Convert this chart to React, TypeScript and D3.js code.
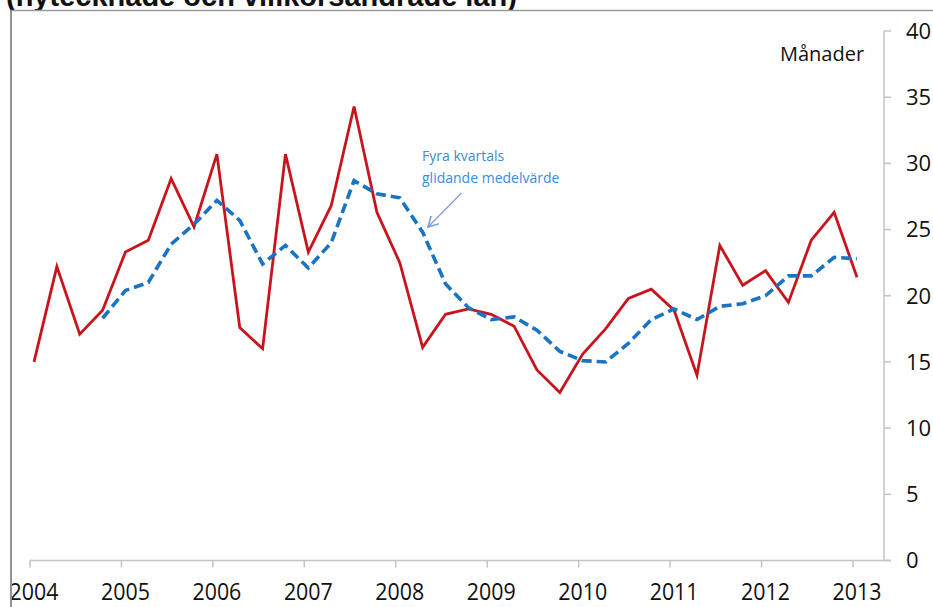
import { useEffect, useRef } from "react";
import * as d3 from "d3";

const quarters = [
  "2004K1", "2004K2", "2004K3", "2004K4",
  "2005K1", "2005K2", "2005K3", "2005K4",
  "2006K1", "2006K2", "2006K3", "2006K4",
  "2007K1", "2007K2", "2007K3", "2007K4",
  "2008K1", "2008K2", "2008K3", "2008K4",
  "2009K1", "2009K2", "2009K3", "2009K4",
  "2010K1", "2010K2", "2010K3", "2010K4",
  "2011K1", "2011K2", "2011K3", "2011K4",
  "2012K1", "2012K2", "2012K3", "2012K4",
  "2013K1",
];

// månader (röd linje)
const monthly = [
  15.0, 22.2, 17.1, 18.9, 23.3, 24.2, 28.85, 25.2, 30.7, 17.6, 16.0, 30.7,
  23.3, 26.8, 34.3, 26.3, 22.5, 16.1, 18.6, 19.0, 18.6, 17.7, 14.4, 12.7,
  15.6, 17.5, 19.8, 20.5, 18.9, 14.0, 23.8, 20.8, 21.9, 19.5, 24.2, 26.3,
  21.4,
];

// fyra kvartals glidande medelvärde (streckad)
const movingAvg: (number | null)[] = [
  null, null, null, 18.3, 20.4, 21.0, 23.9, 25.4, 27.2, 25.7, 22.4, 23.8,
  22.1, 24.0, 28.7, 27.7, 27.4, 24.8, 20.9, 19.1, 18.2, 18.4, 17.4, 15.8,
  15.1, 15.0, 16.4, 18.2, 19.0, 18.2, 19.2, 19.4, 20.0, 21.5, 21.5, 22.9,
  22.8,
];

const yearLabels = ["2004", "2005", "2006", "2007", "2008", "2009", "2010", "2011", "2012", "2013"];
const yTicks = [0, 5, 10, 15, 20, 25, 30, 35, 40];

const W = 933;
const H = 607;
const FONT = "'Open Sans', 'Noto Sans', sans-serif";

export default function App() {
  const svgRef = useRef<SVGSVGElement | null>(null);

  useEffect(() => {
    const svg = d3.select(svgRef.current).attr("width", W).attr("height", H);
    svg.selectAll("*").remove();

    const x = d3.scalePoint<string>().domain(quarters).range([34, 857]);
    const y = d3.scaleLinear().domain([0, 40]).range([560.5, 31]);
    const axisX = 884;
    const axisColor = "#c4c4c4";

    // title, cut at the top as in the source
    svg
      .append("text")
      .attr("x", 6)
      .attr("y", 6)
      .attr("font-family", "'Liberation Sans', Arial, sans-serif")
      .attr("font-weight", "bold")
      .attr("font-size", 29)
      .attr("fill", "#111")
      .text("(nytecknade och villkorsändrade lån)");

    // frame
    svg.append("rect").attr("x", 0).attr("y", 10).attr("width", W).attr("height", H).attr("fill", "#fff");
    svg.append("line").attr("x1", 11).attr("x2", W).attr("y1", 10.5).attr("y2", 10.5).attr("stroke", "#9a9a9a").attr("stroke-width", 1.5);
    svg.append("line").attr("x1", 11).attr("x2", 11).attr("y1", 10).attr("y2", H).attr("stroke", "#6e6e6e").attr("stroke-width", 1.5);

    // y axis (right)
    svg.append("line").attr("x1", axisX).attr("x2", axisX).attr("y1", y(40)).attr("y2", y(0)).attr("stroke", axisColor).attr("stroke-width", 1.5);
    const yt = svg.append("g");
    yt.selectAll("line")
      .data(yTicks)
      .join("line")
      .attr("x1", axisX)
      .attr("x2", axisX + 7)
      .attr("y1", (d) => y(d))
      .attr("y2", (d) => y(d))
      .attr("stroke", axisColor)
      .attr("stroke-width", 1.5);
    yt.selectAll("text")
      .data(yTicks)
      .join("text")
      .attr("x", 906)
      .attr("y", (d) => y(d))
      .attr("dy", "0.36em")
      .attr("font-family", FONT)
      .attr("font-size", 22)
      .attr("fill", "#111")
      .text((d) => d);

    // x axis
    const baseY = y(0);
    svg.append("line").attr("x1", x("2004K1")! - 4).attr("x2", axisX + 7).attr("y1", baseY).attr("y2", baseY).attr("stroke", axisColor).attr("stroke-width", 1.5);
    const xt = svg.append("g");
    xt.selectAll("line")
      .data(yearLabels)
      .join("line")
      .attr("x1", (d) => x(d + "K1")! - 4)
      .attr("x2", (d) => x(d + "K1")! - 4)
      .attr("y1", baseY)
      .attr("y2", baseY + 7)
      .attr("stroke", axisColor)
      .attr("stroke-width", 1.5);
    xt.selectAll("text")
      .data(yearLabels)
      .join("text")
      .attr("transform", (d) => `translate(${x(d + "K1")},600) scale(0.93,1)`)
      .attr("text-anchor", "middle")
      .attr("font-family", FONT)
      .attr("font-size", 23)
      .attr("fill", "#111")
      .text((d) => d);

    // clip the left edge at the frame
    svg.append("defs").append("clipPath").attr("id", "frameClip")
      .append("rect").attr("x", 12).attr("y", 11).attr("width", W).attr("height", H);
    xt.attr("clip-path", "url(#frameClip)");

    // lines
    const line = d3
      .line<number | null>()
      .defined((d) => d != null)
      .x((_, i) => x(quarters[i])!)
      .y((d) => y(d as number));

    svg.append("path")
      .datum(monthly)
      .attr("d", line)
      .attr("fill", "none")
      .attr("stroke", "#c8141c")
      .attr("stroke-width", 2.8);

    svg.append("path")
      .datum(movingAvg)
      .attr("d", line)
      .attr("fill", "none")
      .attr("stroke", "#1a74c4")
      .attr("stroke-width", 3.6)
      .attr("stroke-dasharray", "10,5");

    // annotation
    const ann = svg.append("g").attr("font-family", FONT).attr("font-size", 14).attr("fill", "#3a8dd6");
    ann.append("text").attr("x", 422).attr("y", 161).text("Fyra kvartals");
    ann.append("text").attr("x", 422).attr("y", 183).text("glidande medelvärde");

    svg.append("defs").append("marker")
      .attr("id", "arrowHead")
      .attr("viewBox", "0 0 10 10")
      .attr("refX", 9)
      .attr("refY", 5)
      .attr("markerWidth", 9)
      .attr("markerHeight", 9)
      .attr("orient", "auto")
      .append("path")
      .attr("d", "M0,0 L9,5 L0,10")
      .attr("fill", "none")
      .attr("stroke", "#7f9fd4")
      .attr("stroke-width", 1.4);
    svg.append("line")
      .attr("x1", 461.5).attr("y1", 193)
      .attr("x2", 428).attr("y2", 227)
      .attr("stroke", "#7f9fd4")
      .attr("stroke-width", 1.3)
      .attr("marker-end", "url(#arrowHead)");

    svg.append("text")
      .attr("x", 780)
      .attr("y", 61)
      .attr("font-family", FONT)
      .attr("font-size", 20)
      .attr("fill", "#111")
      .text("Månader");
  }, []);

  return (
    <svg ref={svgRef} style={{ position: "absolute", left: 0, top: 0, background: "#fff" }}></svg>
  );
}
